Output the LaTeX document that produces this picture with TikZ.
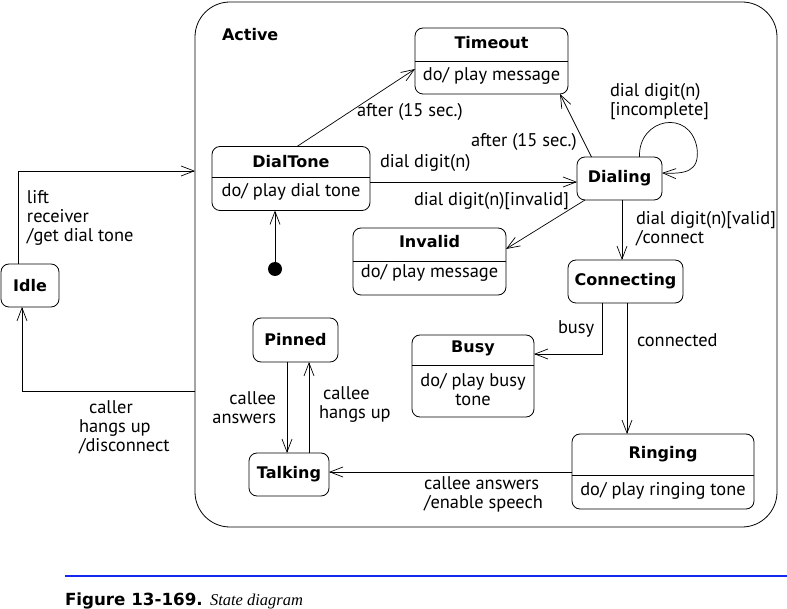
\documentclass[tikz,border=0pt]{standalone}
\usepackage{fontspec}
\setmainfont{PT Sans}
\newfontfamily\dvs{DejaVu Sans}
\newfontfamily\capserif{Liberation Serif}
\usetikzlibrary{arrows.meta,calc}
\definecolor{capblue}{RGB}{20,40,240}
\begin{document}
\begin{tikzpicture}[x=1pt,y=-1pt,
  every node/.style={font=\fontsize{18.4}{19}\selectfont, inner sep=0pt, outer sep=0pt},
  box/.style={draw, rounded corners=8pt, line width=0.8pt},
  ttl/.style={font=\dvs\bfseries\fontsize{16}{19}\selectfont},
  lbl/.style={align=left, anchor=west},
  tr/.style={draw, line width=0.7pt, -{Straight Barb[length=13pt,width=10pt]}},
]
\useasboundingbox (0,0) rectangle (787,609);
% outer composite state
\node[box, rounded corners=35pt, minimum width=582pt, minimum height=525pt, anchor=north west] (active) at (195,2) {};
\node[ttl, anchor=west] (activet) at (222,35) {Active};

% states with compartments
\node[box, minimum width=153pt, minimum height=66pt] (timeout) at (491.5,61) {};
\draw (timeout.west |- 0,61) -- (timeout.east |- 0,61);
\node[ttl] (timeoutt) at (491.5,43) {Timeout};
\node (timeoutb) at (491.5,76) {do/ play message};

\node[box, minimum width=158pt, minimum height=64pt] (dialtone) at (291,178.5) {};
\draw (dialtone.west |- 0,177) -- (dialtone.east |- 0,177);
\node[ttl] (dialtonet) at (291,162) {DialTone};
\node (dialtoneb) at (291,192) {do/ play dial tone};

\node[box, minimum width=153pt, minimum height=67pt] (invalid) at (429.5,261.5) {};
\draw (invalid.west |- 0,261) -- (invalid.east |- 0,261);
\node[ttl] (invalidt) at (429.5,242) {Invalid};
\node (invalidb) at (429.5,273) {do/ play message};

\node[box, minimum width=122pt, minimum height=82pt] (busy) at (473,376) {};
\draw (busy.west |- 0,365) -- (busy.east |- 0,365);
\node[ttl] (busyt) at (473,348) {Busy};
\node[align=center] (busyb) at (473,390) {do/ play busy\\tone};

\node[box, minimum width=182pt, minimum height=75pt] (ringing) at (663,471.5) {};
\draw (ringing.west |- 0,475) -- (ringing.east |- 0,475);
\node[ttl] (ringingt) at (663,454) {Ringing};
\node (ringingb) at (663,491) {do/ play ringing tone};

% simple states
\node[box, ttl, minimum width=85pt, minimum height=43pt] (dialing) at (619.5,178.5) {Dialing};
\node[box, ttl, minimum width=115pt, minimum height=43pt] (connecting) at (625.5,281.5) {Connecting};
\node[box, ttl, minimum width=85pt, minimum height=44pt] (pinned) at (295.5,340) {Pinned};
\node[box, ttl, minimum width=80pt, minimum height=43pt] (talking) at (289,474.5) {Talking};
\node[box, ttl, minimum width=58pt, minimum height=43pt] (idle) at (30,285.5) {Idle};

% initial pseudo state
\node[circle, fill, minimum size=14pt] (init) at (275,269) {};
\draw[tr] (init) -- (init |- dialtone.south);

% Idle <-> Active
\coordinate (a1) at (195,171);
\coordinate (a2) at (195,391);
\draw[tr] ([xshift=-12pt]idle.north) |- (a1);
\draw[tr] (a2) -| ([xshift=-8pt]idle.south);
\node[lbl] (l1) at (27,218) {lift\\receiver\\/get dial tone};
\node[lbl] (l2) at (79,427) {\hspace*{10pt}caller\\hangs up\\/disconnect};

% transitions
\draw[tr] ([xshift=6pt]dialtone.north) -- ([yshift=-8pt]timeout.west);
\node[lbl] (l3) at (357,112) {after (15 sec.)};
\draw[tr] ([xshift=-28pt]dialing.north) -- ([xshift=68.5pt]timeout.south);
\node[lbl] (l4) at (471,142) {after (15 sec.)};
\draw[tr] ([yshift=-3.5pt]dialtone.east) -- ([yshift=-3.5pt]dialing.west);
\node[lbl] (l5) at (380,163) {dial digit(n)};
\draw[tr] ([xshift=8pt]dialing.south west) -- ([yshift=12.5pt]invalid.east);
\node[lbl] (l6) at (414,201) {dial digit(n)[invalid]};
\draw[tr] ([xshift=20pt]dialing.north) .. controls (638,118) and (690,108) .. (697,148) .. controls (700,172) and (685,174) .. ([yshift=5.5pt]dialing.east);
\node[lbl] (l7) at (610,102) {dial digit(n)\\{}[incomplete]};
\coordinate (p1) at ([xshift=2.5pt]dialing.south);
\draw[tr] (p1) -- (p1 |- connecting.north);
\node[lbl] (l8) at (636,229) {dial digit(n)[valid]\\/connect};
\coordinate (p2) at ([xshift=-23.5pt]connecting.south);
\coordinate (p3) at ([yshift=22pt]busy.east);
\draw[tr] (p2) |- (p3);
\node[lbl] (l9) at (558,329) {busy};
\coordinate (p4) at ([xshift=1.5pt]connecting.south);
\draw[tr] (p4) -- (p4 |- ringing.north);
\node[lbl] (l10) at (637,340) {connected};
\coordinate (p5) at ([yshift=-0.5pt]ringing.west);
\draw[tr] (p5) -- (talking.east |- p5);
\node[lbl] (l11) at (424,494) {callee answers\\/enable speech};
\coordinate (p6) at ([xshift=-8.5pt]pinned.south);
\draw[tr] (p6) -- (p6 |- talking.north);
\node[align=right, anchor=east] (l12) at (276,408) {callee\\answers};
\coordinate (p7) at ([xshift=20pt]talking.north);
\draw[tr] (p7) -- (p7 |- pinned.south);
\node[lbl] (l13) at (319,405) {\hspace*{4pt}callee\\hangs up};

% caption
\draw[capblue, line width=2pt] (65,576) -- (787,576);
\node[anchor=base west, font=\dvs\bfseries\fontsize{16.7}{18}\selectfont] (cap) at (65,605) {Figure 13-169.};
\node[anchor=base west, font=\capserif\itshape\fontsize{16.5}{18}\selectfont] (cap2) at (210,605) {State diagram};
\end{tikzpicture}
\end{document}
